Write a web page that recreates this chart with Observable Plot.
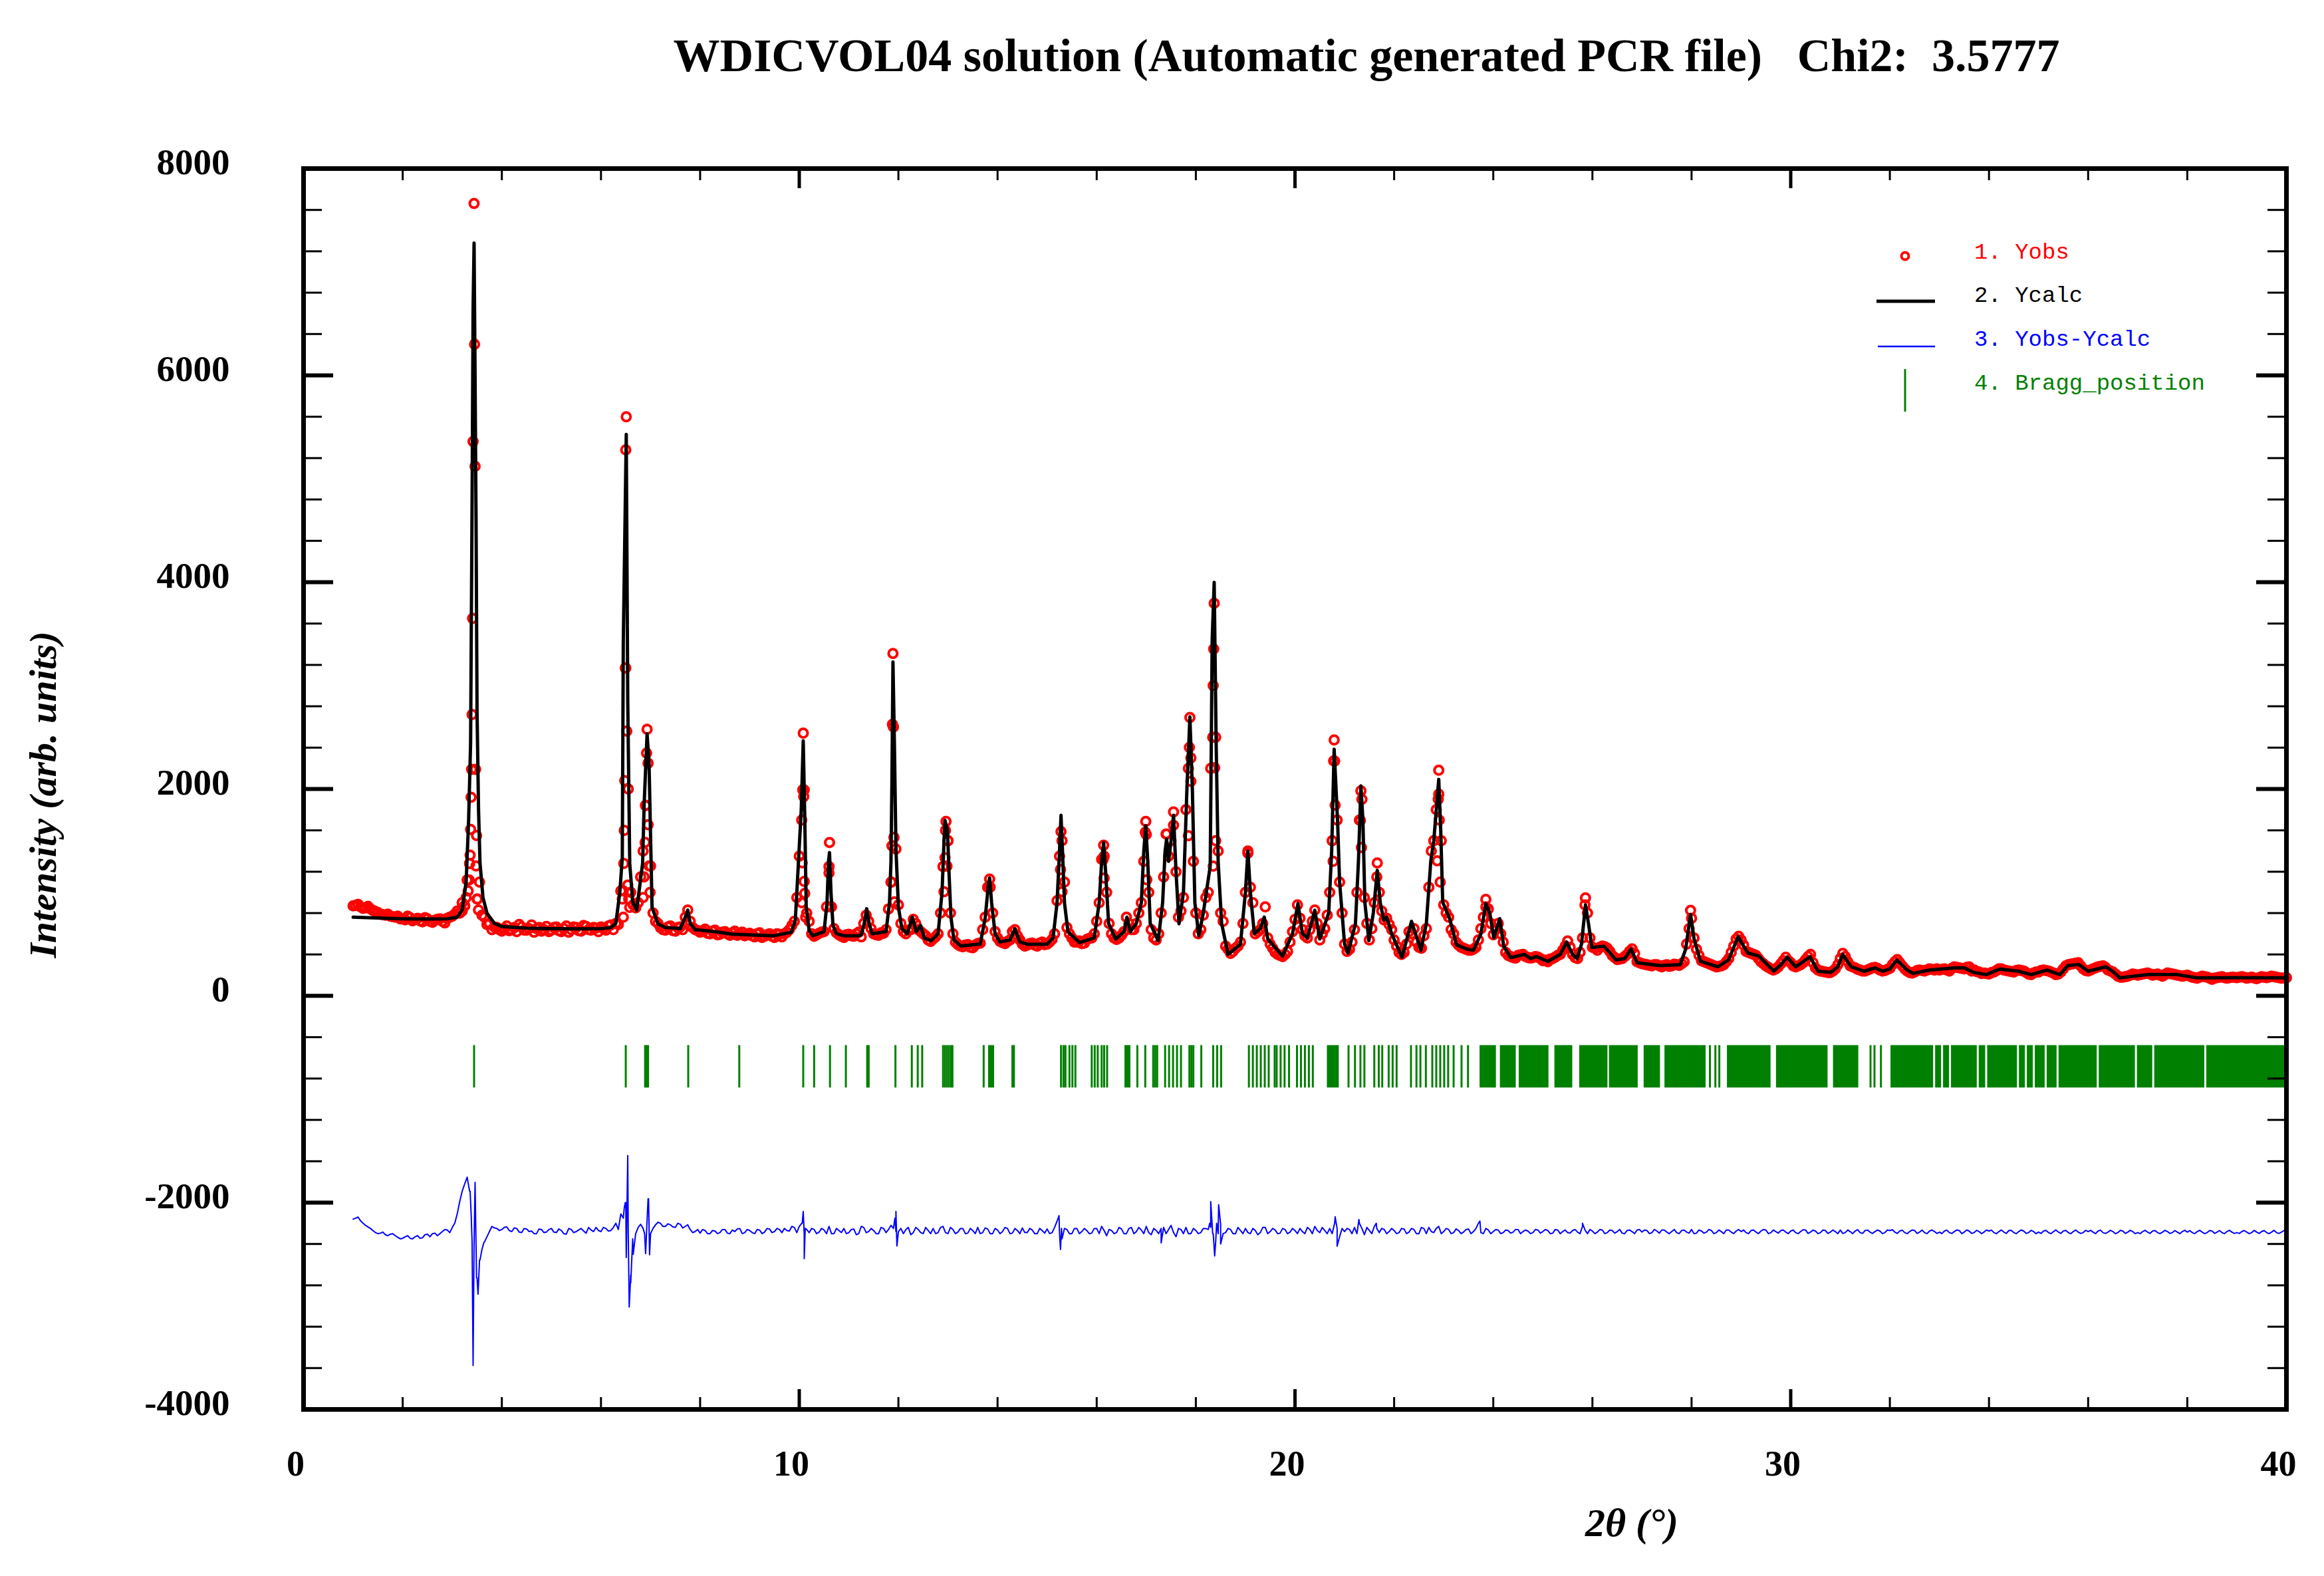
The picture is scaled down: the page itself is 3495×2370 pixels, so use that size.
<!DOCTYPE html>
<html><head><meta charset="utf-8">
<script src="https://cdn.jsdelivr.net/npm/d3@7"></script>
<script src="https://cdn.jsdelivr.net/npm/@observablehq/plot@0.6"></script>
<style>
html,body{margin:0;padding:0;background:#fff;}
#wrap{position:relative;width:3495px;height:2370px;overflow:hidden;background:#fff;}
#wrap > svg{position:absolute;left:0;top:0;}
</style></head><body><div id="wrap"></div>
<script>
// ---------------- data ----------------
const titleText = "WDICVOL04 solution (Automatic generated PCR file)   Chi2:  3.5777";
const yTitle = "Intensity (arb. units)";
const xTitle = "2\u03B8 (\u00B0)";
const legendLabels = ["1. Yobs", "2. Ycalc", "3. Yobs-Ycalc", "4. Bragg_position"];
const legendColors = ["#ff0000", "#000000", "#0000ff", "#008000"];

const xMajor = [0, 10, 20, 30, 40];
const xMajorLabels = ["0", "10", "20", "30", "40"];
const xMinor = [2,4,6,8,12,14,16,18,22,24,26,28,32,34,36,38];
const yMajor = [-4000, -2000, 0, 2000, 4000, 6000, 8000];
const yMajorLabels = ["-4000", "-2000", "0", "2000", "4000", "6000", "8000"];
const yMinor = [-3600,-3200,-2800,-2400,-1600,-1200,-800,-400,400,800,1200,1600,2400,2800,3200,3600,4400,4800,5200,5600,6400,6800,7200,7600];

// Ycalc profile: [2theta, intensity]
const calc = [[1.0,760],[1.5,752],[2.0,745],[2.5,742],[2.9,745],[3.1,760],[3.2,830],[3.28,1100],[3.33,1700],[3.37,2450],[3.40,4800],[3.42,6640],[3.44,7280],[3.46,6000],[3.48,4600],[3.50,2750],[3.53,1800],[3.56,1280],[3.62,950],[3.7,800],[3.85,700],[4.0,670],[4.5,655],[5.0,650],[5.5,648],[6.0,650],[6.2,660],[6.3,700],[6.38,1000],[6.43,1335],[6.45,3414],[6.51,5429],[6.54,2854],[6.58,1282],[6.64,908],[6.72,829],[6.84,1282],[6.87,1842],[6.93,2534],[6.97,2241],[7.00,1548],[7.03,855],[7.15,695],[7.3,660],[7.6,650],[7.7,760],[7.75,829],[7.8,700],[7.9,640],[8.3,620],[8.64,597],[9.49,581],[9.84,614],[9.92,728],[9.99,1352],[10.04,1800],[10.08,2467],[10.11,1750],[10.14,860],[10.2,630],[10.27,581],[10.5,620],[10.56,900],[10.59,1300],[10.61,1385],[10.64,1000],[10.68,680],[10.75,600],[10.9,581],[11.2,581],[11.25,590],[11.31,700],[11.36,843],[11.41,700],[11.47,600],[11.75,620],[11.82,900],[11.85,1300],[11.87,2100],[11.89,3229],[11.92,2418],[11.95,1420],[12.0,860],[12.07,650],[12.18,600],[12.28,761],[12.36,620],[12.45,679],[12.52,560],[12.66,532],[12.8,600],[12.88,1000],[12.92,1500],[12.94,1696],[12.99,1600],[13.02,1200],[13.06,760],[13.12,540],[13.26,482],[13.65,500],[13.75,750],[13.82,1100],[13.84,1139],[13.88,900],[13.95,600],[14.05,520],[14.25,540],[14.35,647],[14.45,520],[14.6,499],[15.0,499],[15.12,560],[15.2,900],[15.25,1400],[15.28,1746],[15.31,1400],[15.35,900],[15.42,620],[15.65,515],[15.95,560],[16.05,900],[16.1,1300],[16.14,1483],[16.18,1200],[16.24,700],[16.38,548],[16.55,620],[16.61,761],[16.68,620],[16.8,700],[16.9,900],[16.95,1400],[16.99,1647],[17.03,1300],[17.08,700],[17.24,532],[17.33,900],[17.38,1400],[17.41,1516],[17.45,1300],[17.5,1500],[17.55,1746],[17.6,1200],[17.66,696],[17.75,1000],[17.82,2000],[17.88,2697],[17.93,2000],[17.98,900],[18.06,581],[18.15,800],[18.29,1254],[18.33,3450],[18.37,3999],[18.41,2430],[18.45,1300],[18.52,700],[18.65,400],[18.9,500],[19.0,1000],[19.05,1401],[19.1,1000],[19.18,600],[19.3,650],[19.38,761],[19.45,550],[19.75,384],[19.95,600],[20.06,893],[20.15,600],[20.25,560],[20.4,827],[20.5,550],[20.68,800],[20.74,1400],[20.79,2385],[20.86,1680],[20.9,1100],[21.0,500],[21.07,413],[21.22,700],[21.28,1300],[21.33,2030],[21.37,1700],[21.41,900],[21.49,533],[21.58,800],[21.66,1213],[21.72,900],[21.79,733],[21.85,760],[21.95,600],[22.16,373],[22.35,720],[22.54,440],[22.65,700],[22.74,1306],[22.8,1500],[22.9,2093],[22.94,1600],[22.98,906],[23.12,746],[23.26,493],[23.46,453],[23.6,440],[23.75,600],[23.85,893],[23.93,800],[24.01,560],[24.13,746],[24.21,480],[24.35,370],[24.63,400],[24.75,360],[24.87,380],[25.1,333],[25.35,400],[25.48,520],[25.6,400],[25.69,360],[25.78,500],[25.86,880],[25.92,700],[25.99,467],[26.23,480],[26.35,420],[26.47,347],[26.65,360],[26.78,453],[26.9,320],[27.36,293],[27.77,300],[27.88,450],[27.98,786],[28.05,550],[28.18,333],[28.53,280],[28.75,350],[28.94,573],[29.05,480],[29.14,413],[29.35,387],[29.66,240],[29.8,300],[29.93,373],[30.1,280],[30.39,378],[30.55,238],[30.81,227],[30.95,280],[31.05,400],[31.22,281],[31.48,238],[31.7,270],[31.86,238],[32.0,260],[32.14,346],[32.35,249],[32.47,216],[32.8,249],[33.31,270],[33.5,270],[33.69,227],[33.95,205],[34.21,259],[34.59,238],[34.85,205],[35.17,249],[35.43,205],[35.59,292],[35.81,303],[36.0,238],[36.36,281],[36.52,227],[36.64,173],[37.2,205],[37.8,205],[38.2,173],[39.0,175],[39.95,173]];

// Yobs on the measuring grid: rows per degree, values at x.00, x.10, ... x.90
const obsRows = [
 [870,885,845,865,825,805,785,790,765,770],
 [745,770,725,750,715,745,710,740,720,750],
 [770,820,900,1120,2720,935,780,690,640,660],
 [625,675,640,620,665,635,685,650,625,670],
 [635,665,620,675,640,660,625,670,635,655],
 [665,635,685,700,1015,3170,1000,850,1150,1840],
 [1255,720,660,635,675,625,665,760,720,640],
 [615,645,600,635,595,620,585,625,600,580],
 [605,570,610,575,600,565,595,600,640,720],
 [1350,1990,720,575,605,620,1250,650,590,565],
 [595,575,615,700,720,600,585,605,840,2600],
 [880,620,635,740,640,600,540,550,600,1250],
 [1500,600,495,475,495,465,505,640,1050,800],
 [560,515,525,620,580,500,490,510,480,520],
 [500,545,920,1500,660,560,520,505,545,560],
 [720,1320,1000,600,545,585,760,640,700,900],
 [1560,640,540,800,1565,1500,1200,820,1800,2300],
 [800,640,950,2200,2500,800,480,410,460,520],
 [1000,1050,600,640,860,500,420,390,400,520],
 [740,750,580,640,830,540,650,1000,2270,1100],
 [500,450,640,1700,950,540,900,1000,733,690],
 [540,420,420,620,650,470,580,1050,1500,1950],
 [880,760,600,490,460,440,450,540,760,840],
 [590,700,520,390,370,390,400,370,370,375],
 [340,330,360,390,440,530,400,360,560,800],
 [470,440,480,460,390,350,360,400,453,330],
 [310,300,290,300,280,300,290,300,310,500],
 [750,450,340,320,300,280,290,330,420,550],
 [540,430,410,390,330,290,260,260,310,373],
 [320,280,300,350,400,270,240,230,225,260],
 [360,380,290,270,250,240,260,275,250,245],
 [265,330,320,260,225,230,250,240,260,250],
 [250,260,240,280,270,260,280,250,230,220],
 [210,230,260,250,240,230,250,240,210,220],
 [230,250,240,220,210,260,300,310,320,260],
 [240,260,280,290,250,230,190,180,190,210],
 [200,210,220,200,210,190,220,210,200,190],
 [200,180,170,190,180,160,175,185,170,180],
 [175,185,170,180,165,185,175,190,180,170],
 [175]
];
// Yobs in between: rows per degree, values at x.05, x.15, ... x.95
const obsHalfRows = [
 [875,860,850,840,815,790,780,770,760,745],
 [735,755,740,725,755,720,730,745,705,760],
 [790,800,870,1280,6300,1100,760,700,665,640],
 [650,630,660,690,635,650,615,660,640,620],
 [660,630,650,615,665,630,680,640,660,620],
 [650,675,640,690,760,2000,880,900,1400,2250],
 [800,700,640,665,630,660,640,830,660,630],
 [630,605,625,590,615,600,610,585,615,590],
 [580,600,565,590,575,600,570,615,680,950],
 [1700,800,600,590,615,860,860,610,575,590],
 [580,600,570,780,650,590,610,640,1100,1420],
 [700,600,640,700,620,580,525,570,800,1600],
 [800,520,480,490,470,490,510,760,1050,620],
 [525,505,540,640,540,480,505,490,510,495],
 [520,600,1350,1100,600,520,530,510,555,600],
 [900,1350,700,560,560,620,700,640,800,1300],
 [1000,560,600,1150,1350,1650,760,950,2200,1300],
 [600,780,1000,3000,1400,720,450,430,480,700],
 [1380,900,620,700,560,460,400,380,430,620],
 [880,640,560,720,700,600,780,1500,1700,800],
 [430,520,1000,1900,700,650,1150,820,750,640],
 [480,400,500,600,520,460,650,1400,1800,1500],
 [800,640,520,470,450,440,470,650,860,700],
 [640,600,420,380,365,395,380,365,380,360],
 [345,355,375,400,480,470,370,420,880,560],
 [460,470,475,430,370,355,380,430,410,320],
 [305,295,300,290,295,285,305,295,330,650],
 [560,390,330,310,290,285,300,360,480,575],
 [490,420,400,360,310,275,250,280,340,340],
 [290,290,320,380,320,250,235,225,240,300],
 [410,330,280,255,240,250,270,265,240,255],
 [300,350,290,240,220,245,245,250,255,260],
 [255,250,265,275,265,275,240,235,215,215],
 [225,245,260,245,235,245,245,225,205,230],
 [245,245,230,205,230,290,305,315,290,245],
 [250,270,285,275,240,210,180,185,200,205],
 [205,215,210,205,200,205,215,205,195,195],
 [190,175,180,185,170,170,180,175,175,178],
 [180,178,175,172,175,180,182,185,175,172]
];
// extra Yobs points read on the peaks
const obsPeaks = [[3.44,7663],[3.42,5360],[3.46,5120],[3.41,3650],[3.39,2190],[3.47,2190],[3.38,1920],[3.37,1610],[3.49,1550],[3.36,1360],[3.35,1280],[3.48,1255],[3.34,1120],[3.32,1015],[3.51,935],[3.53,830],[3.28,950],[3.25,870],[3.2,820],[3.15,800],
 [6.51,5600],[6.50,5280],[6.49,3170],[6.52,2560],[6.48,2080],[6.47,1600],[6.46,1280],[6.54,1070],[6.45,1015],[6.43,935],[6.56,935],[6.58,855],
 [6.93,2577],[6.92,2348],[6.90,1842],[6.95,1655],[6.89,1484],[6.97,1255],[6.87,1150],[6.99,1000],[6.85,950],
 [10.08,2540],[10.07,1992],[10.09,1926],[10.06,1286],[10.10,1106],[10.11,991],[10.05,900],[10.13,761],
 [10.61,1483],[10.60,1188],[10.63,860],
 [11.89,3311],[11.88,2625],[11.91,1532],[11.87,1450],[11.92,909],[11.86,1100],
 [12.96,1686],[12.94,1335],[12.98,1254],[12.92,1007],[13.00,1500],
 [13.84,1129],[15.28,1588],[15.27,1221],[15.30,1007],[16.14,1457],[16.13,1319],[16.15,1139],
 [16.99,1686],[16.98,1582],[17.01,1122],[17.41,1565],[17.55,1778],
 [17.88,2691],[17.87,2402],[17.90,2074],[17.85,1549],
 [18.37,3796],[18.36,3353],[18.38,2205],[18.35,1254],[18.40,1500],[18.34,2500],
 [19.05,1401],[20.79,2474],[20.78,2271],[20.81,1844],[20.77,1300],
 [21.33,1982],[21.32,1696],[21.34,1434],[21.66,1285],
 [22.90,2181],[22.89,1900],[22.91,1700],[22.87,1306],[22.93,1100],
 [23.85,933],[25.86,947],[27.98,826]];

// Yobs-Ycalc (with its plotting offset): rows per degree at x.00 ... x.90
const diffRows = [
 [-2160,-2140,-2200,-2235,-2270,-2300,-2285,-2320,-2300,-2335],
 [-2345,-2320,-2350,-2320,-2340,-2305,-2300,-2320,-2280,-2265],
 [-2240,-2110,-1890,-1754,-2380,-2726,-2450,-2330,-2230,-2250],
 [-2260,-2235,-2280,-2250,-2290,-2255,-2275,-2300,-2260,-2285],
 [-2250,-2290,-2270,-2305,-2260,-2280,-2250,-2295,-2265,-2240],
 [-2280,-2250,-2270,-2200,-2110,-2000,-2700,-2300,-2210,-2490],
 [-2300,-2215,-2200,-2230,-2215,-2240,-2210,-2230,-2260,-2280],
 [-2295,-2270,-2300,-2275,-2290,-2260,-2300,-2280,-2250,-2290],
 [-2270,-2300,-2265,-2285,-2255,-2280,-2260,-2250,-2275,-2240],
 [-2230,-2310,-2290,-2260,-2285,-2265,-2230,-2300,-2270,-2250],
 [-2290,-2255,-2300,-2240,-2280,-2270,-2300,-2250,-2260,-2250],
 [-2280,-2300,-2240,-2290,-2260,-2300,-2270,-2250,-2290,-2230],
 [-2300,-2260,-2285,-2250,-2295,-2270,-2240,-2290,-2255,-2300],
 [-2265,-2280,-2250,-2295,-2270,-2245,-2290,-2265,-2300,-2270],
 [-2255,-2290,-2180,-2350,-2260,-2300,-2250,-2280,-2270,-2295],
 [-2250,-2230,-2320,-2270,-2290,-2255,-2300,-2240,-2280,-2265],
 [-2230,-2310,-2270,-2250,-2300,-2220,-2330,-2260,-2240,-2300],
 [-2270,-2290,-2250,-2240,-2380,-2210,-2290,-2260,-2300,-2270],
 [-2250,-2300,-2270,-2290,-2240,-2280,-2265,-2295,-2260,-2285],
 [-2270,-2250,-2300,-2260,-2230,-2290,-2270,-2250,-2200,-2330],
 [-2280,-2260,-2240,-2200,-2310,-2270,-2230,-2290,-2260,-2280],
 [-2270,-2290,-2255,-2285,-2260,-2300,-2250,-2240,-2290,-2230],
 [-2280,-2260,-2290,-2270,-2285,-2255,-2280,-2200,-2300,-2265],
 [-2280,-2265,-2290,-2270,-2285,-2260,-2280,-2275,-2290,-2265],
 [-2280,-2270,-2295,-2265,-2280,-2290,-2270,-2285,-2230,-2300],
 [-2275,-2285,-2265,-2290,-2270,-2280,-2295,-2270,-2280,-2265],
 [-2285,-2270,-2290,-2275,-2265,-2285,-2280,-2290,-2270,-2285],
 [-2260,-2295,-2275,-2285,-2270,-2290,-2280,-2265,-2285,-2275],
 [-2280,-2290,-2270,-2285,-2275,-2265,-2290,-2280,-2270,-2285],
 [-2275,-2290,-2280,-2265,-2285,-2275,-2290,-2270,-2285,-2280],
 [-2265,-2290,-2280,-2275,-2290,-2270,-2285,-2280,-2275,-2290],
 [-2270,-2285,-2275,-2290,-2280,-2270,-2285,-2290,-2275,-2280],
 [-2285,-2275,-2290,-2280,-2270,-2285,-2275,-2290,-2280,-2285],
 [-2275,-2290,-2280,-2285,-2270,-2290,-2280,-2275,-2290,-2280],
 [-2285,-2275,-2290,-2280,-2285,-2275,-2290,-2280,-2285,-2290],
 [-2280,-2285,-2275,-2290,-2285,-2280,-2290,-2275,-2285,-2280],
 [-2290,-2280,-2285,-2275,-2290,-2285,-2280,-2290,-2285,-2280],
 [-2285,-2290,-2280,-2285,-2290,-2275,-2285,-2290,-2280,-2285],
 [-2290,-2280,-2285,-2290,-2285,-2280,-2290,-2285,-2290,-2285],
 [-2285]
];
// Yobs-Ycalc in between: rows per degree at x.05 ... x.95
const diffHalfRows = [
 [-2150,-2175,-2220,-2250,-2290,-2295,-2310,-2305,-2320,-2350],
 [-2330,-2345,-2330,-2345,-2310,-2330,-2295,-2300,-2260,-2290],
 [-2200,-1990,-1820,-1890,-2100,-2554,-2380,-2280,-2245,-2270],
 [-2240,-2270,-2245,-2285,-2250,-2280,-2300,-2255,-2290,-2260],
 [-2285,-2255,-2300,-2250,-2290,-2265,-2275,-2240,-2280,-2270],
 [-2240,-2275,-2240,-2260,-2150,-2300,-2500,-2240,-2250,-1963],
 [-2250,-2190,-2230,-2205,-2235,-2200,-2245,-2215,-2290,-2260],
 [-2260,-2300,-2270,-2300,-2260,-2295,-2265,-2255,-2300,-2260],
 [-2290,-2260,-2300,-2250,-2290,-2250,-2290,-2270,-2230,-2290],
 [-2200,-2260,-2250,-2300,-2250,-2300,-2300,-2250,-2290,-2300],
 [-2260,-2310,-2230,-2290,-2250,-2300,-2240,-2290,-2220,-2280],
 [-2250,-2260,-2310,-2240,-2290,-2240,-2300,-2300,-2240,-2290],
 [-2240,-2300,-2250,-2300,-2250,-2300,-2300,-2245,-2300,-2250],
 [-2300,-2240,-2300,-2250,-2300,-2290,-2250,-2300,-2250,-2295],
 [-2300,-2240,-2300,-2250,-2300,-2250,-2300,-2250,-2300,-2250],
 [-2300,-2270,-2260,-2300,-2240,-2300,-2250,-2300,-2240,-2300],
 [-2290,-2250,-2300,-2240,-2260,-2290,-2250,-2300,-2300,-2250],
 [-2300,-2250,-2260,-2300,-2300,-2300,-2250,-2300,-2240,-2300],
 [-2290,-2250,-2310,-2240,-2300,-2250,-2300,-2250,-2300,-2250],
 [-2300,-2280,-2240,-2300,-2270,-2240,-2300,-2300,-2250,-2250],
 [-2250,-2300,-2300,-2250,-2240,-2300,-2250,-2250,-2300,-2250],
 [-2300,-2250,-2300,-2250,-2300,-2240,-2300,-2280,-2250,-2300],
 [-2250,-2300,-2255,-2300,-2260,-2300,-2250,-2290,-2250,-2300],
 [-2260,-2300,-2265,-2295,-2260,-2300,-2265,-2300,-2260,-2295],
 [-2260,-2300,-2260,-2300,-2265,-2295,-2260,-2300,-2265,-2260],
 [-2300,-2260,-2300,-2265,-2295,-2260,-2300,-2265,-2300,-2260],
 [-2265,-2300,-2260,-2295,-2265,-2300,-2260,-2300,-2265,-2295],
 [-2300,-2265,-2295,-2260,-2300,-2265,-2300,-2265,-2300,-2260],
 [-2265,-2300,-2265,-2300,-2260,-2300,-2265,-2295,-2265,-2300],
 [-2265,-2300,-2262,-2298,-2266,-2300,-2265,-2298,-2265,-2300],
 [-2298,-2265,-2300,-2262,-2298,-2266,-2298,-2265,-2300,-2265],
 [-2262,-2298,-2266,-2300,-2265,-2298,-2265,-2300,-2265,-2298],
 [-2300,-2266,-2298,-2265,-2300,-2265,-2298,-2268,-2300,-2265],
 [-2266,-2300,-2265,-2298,-2268,-2300,-2265,-2298,-2268,-2300],
 [-2298,-2268,-2300,-2265,-2298,-2268,-2300,-2265,-2298,-2268],
 [-2268,-2300,-2266,-2298,-2268,-2300,-2268,-2298,-2268,-2300],
 [-2300,-2268,-2298,-2270,-2300,-2268,-2298,-2270,-2300,-2268],
 [-2270,-2300,-2268,-2300,-2270,-2298,-2270,-2300,-2268,-2298],
 [-2298,-2270,-2300,-2268,-2298,-2270,-2300,-2268,-2298,-2270]
];
const diffSpikes = [[3.36,-1890],[3.38,-2100],[3.42,-3575],[3.44,-2400],[3.46,-1804],[3.49,-2726],[3.52,-2886],[3.56,-2554],[3.64,-2382],
 [6.47,-2050],[6.49,-2000],[6.51,-2530],[6.54,-1545],[6.57,-3010],[6.60,-2776],[6.64,-2350],[6.88,-2300],[6.90,-2493],[6.96,-1963],[6.98,-2505],
 [10.06,-2200],[10.08,-2086],[10.10,-2542],[10.12,-2250],[11.93,-2150],[11.95,-2086],[11.97,-2419],
 [15.24,-2126],[15.27,-2453],[15.29,-2250],[17.3,-2389],
 [18.28,-2200],[18.30,-1990],[18.34,-2300],[18.38,-2516],[18.42,-2200],[18.46,-2021],[18.50,-2400],
 [20.81,-2137],[20.85,-2421],[21.29,-2164],[21.64,-2200],[23.73,-2179],[25.8,-2200]];

// Bragg reflection positions (isolated ticks) and unresolved dense groups
const braggPos = [3.44,6.50,6.89,6.92,6.95,7.76,8.79,10.08,10.30,10.62,10.94,11.37,11.40,11.94,12.27,12.39,12.48,12.90,12.94,12.98,13.02,13.06,13.09,13.72,13.83,13.87,13.91,14.30,14.33,
 15.28,15.33,15.37,15.45,15.51,15.57,15.90,15.96,16.02,16.10,16.15,16.21,16.58,16.62,16.66,16.82,16.98,17.14,17.18,17.22,17.38,17.46,17.54,17.62,17.70,17.87,17.91,17.95,18.11,18.35,18.43,18.51,
 19.07,19.15,19.23,19.31,19.39,19.47,19.59,19.63,19.71,19.79,19.88,20.04,20.12,20.20,20.28,20.36,21.08,21.21,21.32,21.40,21.60,21.69,21.76,21.89,21.97,22.05,
 22.34,22.45,22.53,22.64,22.77,22.85,22.93,23.01,23.09,23.20,23.36,23.49,
 28.37,28.48,28.56,31.61,31.69,31.82];
const braggBands = [[20.65,20.89],[23.73,24.06],[24.14,24.46],[24.52,25.12],[25.24,25.60],[25.74,26.31],[26.34,26.92],[27.04,27.37],[27.46,28.29],[28.72,29.60],[29.71,30.75],[30.86,31.37],[32.02,32.88],[32.92,33.04],[33.08,33.20],[33.24,33.76],[33.80,33.93],[33.97,34.57],[34.61,34.73],[34.77,34.89],[34.93,35.13],[35.17,35.37],[35.41,36.18],[36.22,36.95],[36.99,37.30],[37.34,38.35],[38.39,39.97]];
const braggTop = -480, braggBottom = -890;

// ---------------- layout ----------------
const W = 3495, H = 2370, ML = 456, MR = 57, MT = 253, MB = 251;
const FW = W - ML - MR, FH = H - MT - MB;
const serif = "'Liberation Serif','Times New Roman',serif";

const gridPoints = (rows, offset) => {
  const out = [];
  rows.forEach((row, i) => row.forEach((v, j) => out.push({x: +(1 + i + offset + j * 0.1).toFixed(3), y: v})));
  return out;
};
const obs = [...gridPoints(obsRows, 0), ...gridPoints(obsHalfRows, 0.05), ...obsPeaks.map(([x, y]) => ({x, y}))];
const diff = [...gridPoints(diffRows, 0), ...gridPoints(diffHalfRows, 0.05), ...diffSpikes.map(([x, y]) => ({x, y}))]
  .sort((a, b) => a.x - b.x);

const chart = Plot.plot({
  width: W, height: H,
  marginLeft: ML, marginRight: MR, marginTop: MT, marginBottom: MB,
  x: {domain: [0, 40], axis: null},
  y: {domain: [-4000, 8000], axis: null},
  style: {background: "white"},
  marks: [
    Plot.rect(braggBands, {x1: d => d[0], x2: d => d[1], y1: braggTop, y2: braggBottom, fill: "#008000"}),
    Plot.ruleX(braggPos, {x: d => d, y1: braggTop, y2: braggBottom, stroke: "#008000", strokeWidth: 3}),
    Plot.line(diff, {x: "x", y: "y", stroke: "#0000ff", strokeWidth: 2}),
    Plot.dot(obs, {x: "x", y: "y", r: 6.5, stroke: "#ff0000", strokeWidth: 4, fill: "none"}),
    Plot.line(calc, {x: d => d[0], y: d => d[1], stroke: "#000000", strokeWidth: 5}),
    // ticks (inward, on all four sides)
    Plot.tickY(yMinor, {y: d => d, insetRight: FW - 28, stroke: "#000", strokeWidth: 3}),
    Plot.tickY(yMajor, {y: d => d, insetRight: FW - 45, stroke: "#000", strokeWidth: 6}),
    Plot.tickY(yMinor, {y: d => d, insetLeft: FW - 28, stroke: "#000", strokeWidth: 3}),
    Plot.tickY(yMajor, {y: d => d, insetLeft: FW - 45, stroke: "#000", strokeWidth: 6}),
    Plot.tickX(xMinor, {x: d => d, insetTop: FH - 18, stroke: "#000", strokeWidth: 3}),
    Plot.tickX(xMinor, {x: d => d, insetBottom: FH - 18, stroke: "#000", strokeWidth: 3}),
    Plot.tickX(xMajor, {x: d => d, insetTop: FH - 30, stroke: "#000", strokeWidth: 5}),
    Plot.tickX(xMajor, {x: d => d, insetBottom: FH - 30, stroke: "#000", strokeWidth: 5}),
    Plot.frame({stroke: "#000", strokeWidth: 7}),
    // tick labels
    Plot.text(yMajor, {y: d => d, frameAnchor: "left", text: (d, i) => yMajorLabels[i], textAnchor: "end",
      dx: -111, dy: -9, fontSize: 55, fontWeight: "bold", fontFamily: serif, fill: "#000"}),
    Plot.text(xMajor, {x: d => d, frameAnchor: "bottom", text: (d, i) => xMajorLabels[i], lineAnchor: "middle",
      dx: -12, dy: 82, fontSize: 54, fontWeight: "bold", fontFamily: serif, fill: "#000"})
  ]
});
const wrap = document.getElementById("wrap");
wrap.appendChild(chart);

// ---------------- title, axis titles, legend (overlay) ----------------
const ov = d3.select(wrap).append("svg").attr("width", W).attr("height", H)
  .style("position", "absolute").style("left", "0px").style("top", "0px");
ov.append("text").attr("x", 2055).attr("y", 107).attr("text-anchor", "middle")
  .attr("font-family", serif).attr("font-weight", "bold").attr("font-size", 70)
  .style("white-space", "pre").attr("xml:space", "preserve").text(titleText);
ov.append("text").attr("transform", "translate(84,1195) rotate(-90)").attr("text-anchor", "middle")
  .attr("font-family", serif).attr("font-weight", "bold").attr("font-style", "italic").attr("font-size", 58)
  .text(yTitle);
ov.append("text").attr("x", 2454).attr("y", 2310).attr("text-anchor", "middle")
  .attr("font-family", serif).attr("font-weight", "bold").attr("font-style", "italic").attr("font-size", 60)
  .text(xTitle);

const rowY = [380, 445, 511, 577];
legendLabels.forEach((lab, i) => {
  ov.append("text").attr("x", 2969).attr("y", rowY[i]).attr("dominant-baseline", "central")
    .attr("font-family", "'Liberation Mono','DejaVu Sans Mono',monospace").attr("font-size", 34)
    .attr("fill", legendColors[i]).style("white-space", "pre").text(lab);
});
ov.append("circle").attr("cx", 2865).attr("cy", 385).attr("r", 5.5).attr("fill", "none")
  .attr("stroke", legendColors[0]).attr("stroke-width", 4);
ov.append("line").attr("x1", 2822).attr("x2", 2910).attr("y1", 453).attr("y2", 453)
  .attr("stroke", legendColors[1]).attr("stroke-width", 5);
ov.append("line").attr("x1", 2824).attr("x2", 2910).attr("y1", 521).attr("y2", 521)
  .attr("stroke", legendColors[2]).attr("stroke-width", 2.5);
ov.append("line").attr("x1", 2865).attr("x2", 2865).attr("y1", 555).attr("y2", 619)
  .attr("stroke", legendColors[3]).attr("stroke-width", 3);
</script></body></html>
